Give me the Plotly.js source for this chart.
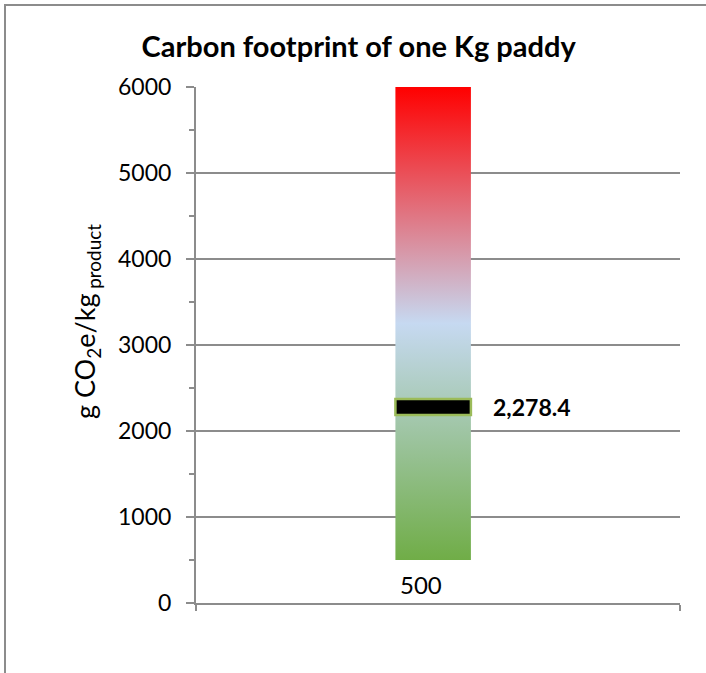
<!DOCTYPE html>
<html>
<head>
<meta charset="utf-8">
<script src="https://cdn.plot.ly/plotly-3.0.1.min.js"></script>
<style>
  html, body { margin: 0; padding: 0; background: #fff; }
  #chart { width: 706px; height: 673px; }
</style>
</head>
<body>
<div id="chart"></div>
<script>
// ---- data ----
const categories = [0];            // single category position
const categoryLabel = ['500'];     // label shown under the bar
const rangeLow = [500];            // bottom of gradient scale
const rangeHigh = [6000];          // top of gradient scale
const footprint = [2278.4];        // carbon footprint value (g CO2e / kg product)
const yTickVals = [0, 1000, 2000, 3000, 4000, 5000, 6000];
const yTickText = ['0', '1000', '2000', '3000', '4000', '5000', '6000'];

// ---- styles ----
const halfW = 0.078;
const xRange = [-0.49, 0.51];
const font = 'Lato, "Open Sans", sans-serif';
const gridCol = '#8c8c8c';

const c = categories[0];
const barTrace = {
  type: 'scatter',
  mode: 'lines',
  x: [c - halfW, c + halfW, c + halfW, c - halfW, c - halfW],
  y: [rangeLow[0], rangeLow[0], rangeHigh[0], rangeHigh[0], rangeLow[0]],
  fill: 'toself',
  line: { width: 0, color: 'rgba(0,0,0,0)' },
  fillgradient: {
    type: 'vertical',
    colorscale: [[0, '#70AD47'], [0.5, '#C6D9F1'], [1, '#FF0000']],
    start: rangeLow[0],
    stop: rangeHigh[0]
  },
  hoverinfo: 'skip',
  showlegend: false
};

const fmt = v => v.toLocaleString('en-US', { minimumFractionDigits: 1, maximumFractionDigits: 1 });

const layout = {
  width: 706,
  height: 673,
  margin: { l: 196, r: 26, t: 87, b: 70 },
  paper_bgcolor: '#fff',
  plot_bgcolor: '#fff',
  showlegend: false,
  title: {
    text: '<b>Carbon footprint of one Kg paddy</b>',
    font: { family: font, size: 29, color: '#000' },
    xref: 'container', x: 0.508, xanchor: 'center',
    yref: 'container', y: 1 - 47 / 673, yanchor: 'middle'
  },
  xaxis: {
    range: xRange,
    showgrid: false,
    zeroline: false,
    showline: true,
    linecolor: gridCol,
    linewidth: 2,
    ticks: 'outside',
    tickvals: xRange,
    ticklen: 6,
    tickcolor: gridCol,
    tickwidth: 2,
    showticklabels: false,
    fixedrange: true
  },
  yaxis: {
    range: [0, 6000],
    tickvals: yTickVals,
    ticktext: yTickText,
    showgrid: true,
    gridcolor: gridCol,
    gridwidth: 2,
    zeroline: false,
    showline: true,
    linecolor: gridCol,
    linewidth: 2,
    ticks: 'outside',
    ticklen: 8,
    tickwidth: 2,
    tickcolor: gridCol,
    ticklabelstandoff: 10,
    minor: { dtick: 500, ticks: 'outside', ticklen: 5, tickcolor: gridCol, tickwidth: 2, showgrid: false },
    tickfont: { family: font, size: 23, color: '#000' },
    fixedrange: true
  },
  shapes: [
    {
      type: 'rect', xref: 'x', yref: 'y', ysizemode: 'pixel',
      x0: c - halfW, x1: c + halfW,
      yanchor: footprint[0], y0: -8, y1: 8,
      fillcolor: '#000', line: { color: '#9BBB59', width: 2.5 }
    },
    {
      type: 'rect', xref: 'paper', yref: 'paper',
      x0: (5 - 196) / 484, x1: 1.2, y0: -0.3, y1: (603 - 5) / 516,
      line: { color: '#8c8c8c', width: 2 }, fillcolor: 'rgba(0,0,0,0)', layer: 'below'
    }
  ],
  annotations: [
    {
      xref: 'paper', yref: 'paper',
      x: (86 - 196) / 484, y: (603 - 322) / 516,
      xanchor: 'center', yanchor: 'middle', textangle: -90,
      text: 'g CO<sub>2</sub>e/kg<sub> product</sub>',
      showarrow: false,
      font: { family: font, size: 27, color: '#000' }
    },
    {
      x: c + halfW, y: footprint[0], xref: 'x', yref: 'y',
      text: '<b>' + fmt(footprint[0]) + '</b>',
      showarrow: false, xanchor: 'left', yanchor: 'middle', xshift: 20,
      font: { family: font, size: 23, color: '#000' }
    },
    {
      x: c, y: rangeLow[0], xref: 'x', yref: 'y',
      text: categoryLabel[0],
      showarrow: false, xanchor: 'center', yanchor: 'top', xshift: -12, yshift: -8,
      font: { family: font, size: 24, color: '#000' }
    }
  ]
};

Plotly.newPlot('chart', [barTrace], layout, { displayModeBar: false, staticPlot: true });
</script>
</body>
</html>
